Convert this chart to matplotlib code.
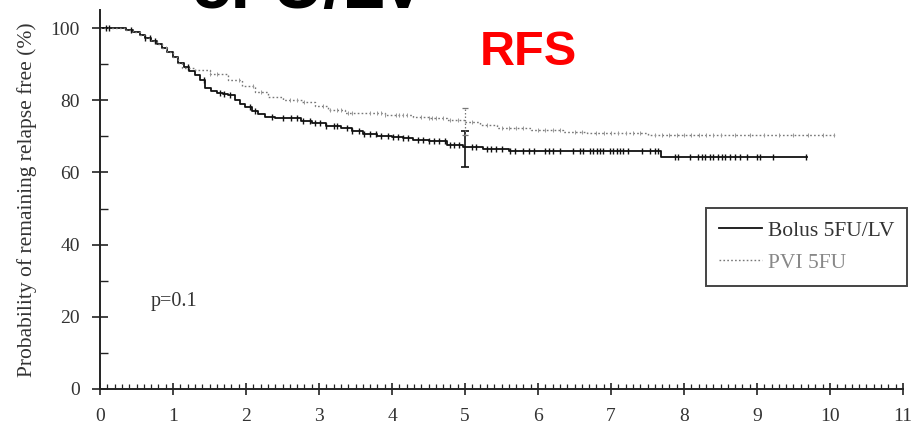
import numpy as np
import matplotlib.pyplot as plt
from matplotlib.ticker import MultipleLocator

# Kaplan-Meier steps (years, % relapse free)
bolus_t = [0, 0.35, 0.45, 0.55, 0.62, 0.7, 0.78, 0.85, 0.92, 1.0, 1.07, 1.15, 1.22,
           1.3, 1.37, 1.44, 1.52, 1.6, 1.68, 1.75, 1.85, 1.92, 1.99, 2.08, 2.17,
           2.26, 2.4, 2.58, 2.75, 2.9, 3.1, 3.3, 3.45, 3.6, 3.8, 4.0, 4.15, 4.29,
           4.5, 4.75, 4.97, 5.25, 5.6, 7.68, 9.68]
bolus_v = [100, 99.5, 98.8, 98, 97.2, 96.4, 95.5, 94.5, 93.3, 92, 90.3, 89.3, 88,
           87, 85.5, 83.4, 82.5, 82, 81.8, 81.4, 80.2, 79, 78, 77, 76.2,
           75.4, 75, 75, 74.2, 73.7, 73, 72.3, 71.5, 70.6, 70.2, 69.8, 69.4, 69,
           68.6, 67.6, 67, 66.5, 66, 64.3, 64.3]

pvi_t = [0, 0.35, 0.45, 0.55, 0.62, 0.7, 0.78, 0.85, 0.92, 1.0, 1.07, 1.12, 1.3,
         1.5, 1.75, 1.95, 2.12, 2.3, 2.5, 2.77, 2.95, 3.12, 3.36, 3.6, 3.9, 4.29,
         4.5, 4.75, 5.0, 5.2, 5.44, 5.9, 6.34, 6.67, 7.5, 10.07]
pvi_v = [100, 99.5, 98.8, 98, 97.2, 96.4, 95.5, 94.5, 93.3, 92, 90.3, 89, 88.4,
         87.2, 85.6, 84, 82.3, 81, 80, 79.5, 78.3, 77.3, 76.5, 76.4, 76, 75.3,
         75, 74.5, 74, 73.2, 72.3, 71.7, 71.2, 70.9, 70.4, 70.2]

# censored observations
bolus_cens = [0.08, 0.12, 0.42, 0.62, 0.68, 0.75, 1.2, 1.42, 1.65, 1.7, 1.78, 2.05,
              2.12, 2.35, 2.5, 2.62, 2.7, 2.78, 2.88, 2.95, 3.02, 3.1, 3.2, 3.25,
              3.38, 3.45, 3.55, 3.62, 3.7, 3.78, 3.85, 3.95, 4.02, 4.08, 4.15, 4.22,
              4.35, 4.42, 4.5, 4.58, 4.65, 4.72, 4.8, 4.85, 4.92, 5.1, 5.15, 5.3,
              5.35, 5.42, 5.5, 5.62, 5.68, 5.8, 5.88, 5.95, 6.1, 6.15, 6.2, 6.3,
              6.48, 6.58, 6.62, 6.71, 6.75, 6.81, 6.85, 6.89, 6.99, 7.03, 7.08,
              7.12, 7.16, 7.23, 7.42, 7.53, 7.6, 7.64, 7.88, 7.92, 8.08, 8.19, 8.25,
              8.29, 8.36, 8.4, 8.47, 8.52, 8.56, 8.63, 8.7, 8.77, 8.86, 9.0, 9.04,
              9.22, 9.67]
pvi_cens = [0.9, 1.5, 1.6, 1.9, 2.1, 2.2, 2.6, 2.7, 2.8, 3.05, 3.15, 3.25, 3.3, 3.4,
            3.45, 3.7, 3.8, 3.85, 3.9, 4.05, 4.1, 4.15, 4.2, 4.4, 4.5, 4.55, 4.6,
            4.7, 4.8, 4.9, 5.1, 5.3, 5.5, 5.6, 5.7, 5.8, 6.0, 6.1, 6.2, 6.3, 6.5,
            6.6, 6.8, 6.9, 7.0, 7.1, 7.2, 7.3, 7.4, 7.6, 7.7, 7.8, 7.9, 8.0, 8.1,
            8.2, 8.3, 8.4, 8.5, 8.7, 8.9, 9.1, 9.3, 9.5, 9.7, 9.9, 10.05]

# 95% CI at 5 years
ci_time = 5.0
bolus_ci = [61.5, 67.0, 71.5]   # low, est, high
pvi_ci = [70.5, 74.0, 77.8]


def step_value(t_steps, v_steps, t):
    idx = np.searchsorted(t_steps, t, side='right') - 1
    return np.array(v_steps)[idx]


serif = 'Liberation Serif'
fig = plt.figure(figsize=(9.16, 4.26), dpi=100)
ax = fig.add_axes([0.1092, 0.0869, 0.8766, 0.8896])

blk = '#111111'
gry = '#777777'

ax.step(bolus_t, bolus_v, where='post', color=blk, lw=1.3, label='Bolus 5FU/LV')
ax.step(pvi_t, pvi_v, where='post', color=gry, lw=1.0, ls=(0, (1.2, 1.6)),
        label='PVI 5FU')

ax.plot(bolus_cens, step_value(bolus_t, bolus_v, bolus_cens), ls='none',
        marker='|', ms=5, mew=1.0, color=blk)
ax.plot(pvi_cens, step_value(pvi_t, pvi_v, pvi_cens), ls='none',
        marker='|', ms=3, mew=0.7, color='#999999')

ax.errorbar([ci_time], [bolus_ci[1]],
            yerr=[[bolus_ci[1] - bolus_ci[0]], [bolus_ci[2] - bolus_ci[1]]],
            fmt='none', ecolor=blk, elinewidth=1.2, capsize=3, capthick=1.2)
eb = ax.errorbar([ci_time], [pvi_ci[1]],
                 yerr=[[pvi_ci[1] - pvi_ci[0]], [pvi_ci[2] - pvi_ci[1]]],
                 fmt='none', ecolor=gry, elinewidth=0.9, capsize=2, capthick=0.9)
eb[2][0].set_linestyle((0, (1.2, 1.6)))

ax.set_xlim(0, 11)
ax.set_ylim(0, 105)
ax.spines['top'].set_visible(False)
ax.spines['right'].set_visible(False)
for s in ['left', 'bottom']:
    ax.spines[s].set_linewidth(1.4)
    ax.spines[s].set_color('#222222')

ax.xaxis.set_major_locator(MultipleLocator(1))
ax.xaxis.set_minor_locator(MultipleLocator(0.1))
ax.yaxis.set_major_locator(MultipleLocator(20))
ax.yaxis.set_minor_locator(MultipleLocator(10))
ax.tick_params(axis='x', which='major', direction='inout', length=9, width=1.2,
               color='#222222', pad=9)
ax.tick_params(axis='x', which='minor', direction='in', length=3.5, width=0.9,
               color='#222222')
ax.tick_params(axis='y', which='major', direction='inout', length=11, width=1.2,
               color='#222222', pad=9)
ax.tick_params(axis='y', which='minor', direction='in', length=6, width=1.0,
               color='#222222')
for lab in ax.get_xticklabels() + ax.get_yticklabels():
    lab.set_fontfamily(serif)
    lab.set_fontsize(14)
    lab.set_color('#333333')

ax.set_ylabel('Probability of remaining relapse free (%)', fontfamily=serif,
              fontsize=15.5, color='#333333', labelpad=10)

ax.text(0.7, 23, 'p=0.1', fontfamily=serif, fontsize=14.5, color='#333333')

leg = ax.legend(loc='upper right', bbox_to_anchor=(0.990, 0.512),
                bbox_transform=fig.transFigure, borderaxespad=0,
                prop={'family': serif, 'size': 15.5}, fancybox=False,
                framealpha=1, edgecolor='#444444', handlelength=2.0,
                handletextpad=0.25, borderpad=0.6, labelspacing=0.55)
leg.get_frame().set_linewidth(1.4)
leg.get_texts()[0].set_color('#333333')
leg.get_texts()[1].set_color('#888888')

fig.text(480 / 916, 1 - 65 / 426, 'RFS', color='#ff0000', fontsize=35,
         fontweight='bold', fontfamily='Liberation Sans', va='baseline')
fig.text(193 / 916, 1 - 8 / 426, '5FU/LV', color='black', fontsize=50,
         fontweight='bold', fontfamily='Liberation Sans', va='baseline')

fig.savefig('out.png', dpi=100)
